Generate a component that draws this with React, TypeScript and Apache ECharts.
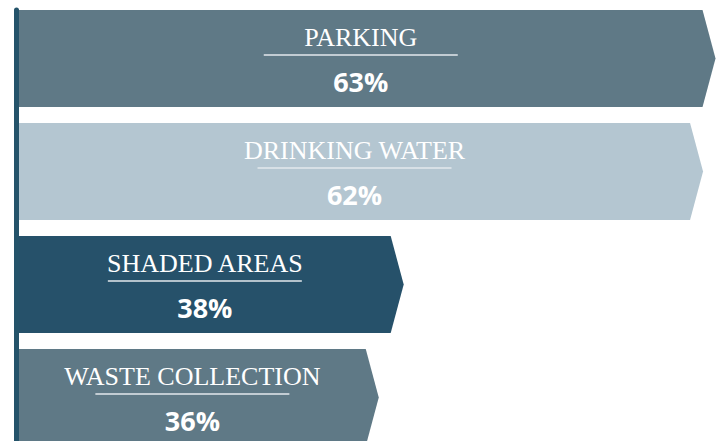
import React, { useEffect, useRef } from "react";
import * as echarts from "echarts";

const categories = ["PARKING", "DRINKING WATER", "SHADED AREAS", "WASTE COLLECTION"];
const values = [63, 62, 38, 36];
const barColors = ["#5f7986", "#b4c6d1", "#26516a", "#5f7986"];

export default function App() {
  const ref = useRef<HTMLDivElement>(null);
  useEffect(() => {
    if (!ref.current) return;
    const chart = echarts.init(ref.current, null, { renderer: "svg" });
    const BAR_H = 97;
    const TIP = 13;
    chart.setOption({
      animation: false,
      grid: { left: 16.5, right: 5, top: 10, bottom: 0, containLabel: false },
      xAxis: {
        type: "value",
        min: 8,
        max: 64,
        show: false,
      },
      yAxis: {
        type: "category",
        data: categories,
        inverse: true,
        axisLine: { show: true, lineStyle: { color: "#24536a", width: 5 } },
        axisTick: { show: false },
        axisLabel: { show: false },
        splitLine: { show: false },
      },
      series: [
        {
          type: "custom",
          clip: false,
          encode: { x: 0, y: 1 },
          data: values.map((v, i) => [v, i]),
          renderItem: (params: any, api: any) => {
            const v = api.value(0);
            const idx = api.value(1);
            const pt = api.coord([v, idx]);
            const band = api.size([0, 1])[1];
            const top = pt[1] - band / 2;
            const left = params.coordSys.x + 2.5;
            const end = pt[0];
            const cx = (left + end) / 2;
            return {
              type: "group",
              children: [
                {
                  type: "polygon",
                  shape: {
                    points: [
                      [left, top],
                      [end, top],
                      [end + TIP, top + BAR_H / 2],
                      [end, top + BAR_H],
                      [left, top + BAR_H],
                    ],
                  },
                  style: { fill: barColors[idx] },
                },
                {
                  type: "text",
                  style: {
                    text: categories[idx],
                    x: cx,
                    y: top + 27,
                    align: "center",
                    verticalAlign: "middle",
                    fill: "#ffffff",
                    font: "normal 26px 'Liberation Serif', serif",
                  },
                },
                {
                  type: "line",
                  shape: { x1: cx - 97, y1: top + 45, x2: cx + 97, y2: top + 45 },
                  style: { stroke: "#e3e9ec", lineWidth: 1.5 },
                },
                {
                  type: "text",
                  style: {
                    text: values[idx] + "%",
                    x: cx,
                    y: top + 71,
                    align: "center",
                    verticalAlign: "middle",
                    fill: "#ffffff",
                    font: "bold 27px 'Open Sans', sans-serif",
                  },
                },
              ],
            };
          },
        },
      ],
    });
    return () => chart.dispose();
  }, []);
  return (
    <div style={{ width: 720, height: 441, position: "absolute", left: 0, top: 0, overflow: "hidden" }}>
      <div ref={ref} style={{ width: 720, height: 462 }} />
    </div>
  );
}
